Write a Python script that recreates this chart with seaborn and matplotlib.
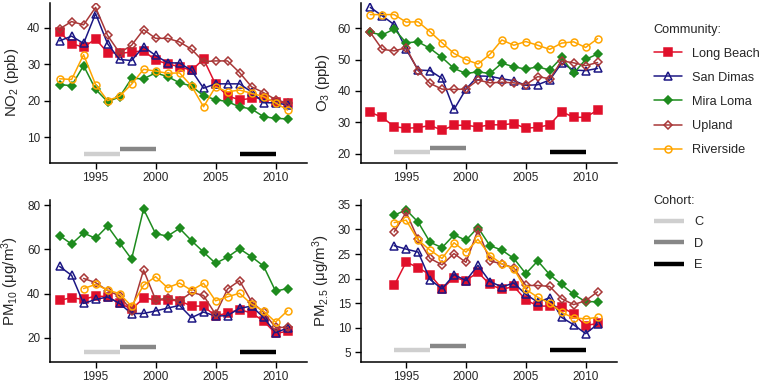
import numpy as np
import pandas as pd
import matplotlib
matplotlib.use("Agg")
import matplotlib.pyplot as plt
from matplotlib.lines import Line2D
import seaborn as sns

# ---------------- data ----------------
years = list(range(1992, 2012))
communities = ["Long Beach", "San Dimas", "Mira Loma", "Upland", "Riverside"]
NA = np.nan

no2_long_beach = [38.8, 35.6, 34.7, 36.9, 33.2, 33.0, 33.3, 33.7, 31.1, 30.1, 29.3, 28.3, 31.4, 24.5, 21.3, 20.2, 20.6, 20.8, 19.6, 19.3]
no2_san_dimas  = [36.4, 37.7, 35.7, 43.9, 35.6, 31.3, 31.0, 34.8, 32.4, 30.4, 30.3, 28.3, 23.4, 24.6, 24.6, 24.6, 22.4, 19.4, 19.4, 18.8]
no2_mira_loma  = [24.4, 24.1, 29.6, 23.1, 19.7, 21.0, 26.1, 26.0, 27.6, 26.6, 24.9, 24.0, 21.3, 20.3, 19.7, 18.3, 17.7, 15.6, 15.1, 15.0]
no2_upland     = [39.7, 41.7, 40.8, 45.6, 37.9, 33.1, 35.2, 39.5, 37.1, 37.1, 36.1, 34.1, 30.7, 30.9, 30.9, 27.7, 23.8, 22.2, 20.3, 19.3]
no2_riverside  = [26.0, 25.8, 32.6, 24.4, 20.0, 21.2, 24.5, 28.6, 28.1, 27.5, 27.6, 24.0, 18.3, 23.8, 22.4, 22.9, 22.0, 21.1, 19.4, 17.4]

o3_long_beach = [33.2, 31.6, 28.6, 28.1, 28.3, 29.0, 27.5, 29.0, 29.1, 28.5, 29.2, 29.2, 29.6, 28.1, 28.4, 29.2, 33.4, 31.6, 31.6, 33.9]
o3_san_dimas  = [66.7, 64.0, 61.2, 53.3, 46.7, 46.5, 44.0, 34.1, 40.6, 44.8, 44.7, 43.9, 43.3, 41.8, 42.0, 43.5, 48.9, 46.7, 46.5, 47.2]
o3_mira_loma  = [58.7, 57.9, 59.8, 55.4, 55.7, 53.6, 50.7, 47.2, 45.6, 46.1, 45.6, 48.9, 47.7, 47.0, 47.7, 46.7, 50.7, 45.6, 50.1, 51.8]
o3_upland     = [58.7, 53.3, 52.8, 53.8, 46.5, 42.4, 40.6, 40.5, 40.6, 43.5, 42.6, 42.8, 42.6, 42.0, 44.6, 43.9, 49.6, 49.0, 48.1, 49.1]
o3_riverside  = [64.4, 64.4, 64.4, 62.0, 62.1, 58.9, 55.4, 52.0, 50.0, 48.6, 51.7, 56.3, 54.6, 55.8, 54.6, 53.3, 55.3, 55.7, 53.9, 56.7]

pm10_long_beach = [37.0, 38.2, 37.4, 39.0, 38.6, 35.8, 33.0, 38.0, 37.3, 37.1, 36.8, 34.4, 34.4, 29.9, 31.3, 32.8, 31.3, 27.7, 22.1, 23.0]
pm10_san_dimas  = [52.3, 48.3, 35.6, 37.4, 38.5, 35.6, 31.0, 31.1, 32.2, 33.5, 34.7, 29.2, 31.7, 29.9, 30.1, 33.4, 34.4, 29.3, 22.4, 24.5]
pm10_mira_loma  = [66.2, 62.4, 67.4, 65.0, 70.5, 63.0, 55.6, 78.2, 67.1, 66.0, 69.5, 63.9, 58.8, 53.7, 56.5, 60.3, 56.7, 52.5, 41.2, 42.3]
pm10_upland     = [NA, NA, 46.9, 45.0, 41.4, 39.0, 32.3, 50.7, 37.3, 37.9, 36.8, 40.6, 39.2, 30.7, 42.1, 45.9, 36.4, 31.6, 24.8, 24.8]
pm10_riverside  = [NA, NA, 42.3, 44.2, 41.7, 40.0, 34.3, 43.8, 47.7, 42.7, 44.8, 41.5, 44.7, 36.8, 38.6, 40.2, 35.3, 32.2, 27.2, 32.3]

pm25_long_beach = [NA, NA, 18.6, 23.4, 22.2, 20.8, 17.9, 20.2, 19.6, 21.3, 18.8, 17.8, 18.4, 15.7, 14.4, 14.4, 14.2, 12.8, 10.4, 10.9]
pm25_san_dimas  = [NA, NA, 26.7, 26.0, 25.4, 19.8, 17.9, 20.8, 19.6, 22.7, 19.4, 18.3, 19.1, 16.8, 15.2, 16.1, 12.1, 10.6, 8.8, 10.7]
pm25_mira_loma  = [NA, NA, 32.9, 34.0, 31.5, 27.4, 26.3, 28.9, 27.8, 30.4, 26.7, 25.8, 24.1, 21.0, 23.6, 20.8, 18.8, 16.8, 15.3, 15.3]
pm25_upland     = [NA, NA, 29.5, 33.5, 28.0, 24.1, 22.8, 25.1, 23.3, 29.9, 23.6, 23.0, 22.2, 18.6, 18.6, 18.4, 15.9, 14.7, 15.5, 17.3]
pm25_riverside  = [NA, NA, 31.4, 31.9, 27.8, 25.8, 24.1, 27.3, 25.4, 28.0, 24.7, 23.0, 22.0, 17.8, 16.2, 15.0, 13.1, 12.0, 11.8, 12.1]

cohorts = ["C", "D", "E"]
cohort_start = [1994, 1997, 2007]
cohort_end = [1997, 2000, 2010]
cohort_level_no2 = [5.4, 6.6, 5.4]
cohort_level_o3 = [20.4, 21.9, 20.4]
cohort_level_pm10 = [13.7, 15.8, 13.7]
cohort_level_pm25 = [5.4, 6.2, 5.4]

panel_labels = [r"NO$_2$ (ppb)", r"O$_3$ (ppb)", r"PM$_{10}$ (μg/m$^3$)", r"PM$_{2.5}$ (μg/m$^3$)"]
panel_yticks = [[10, 20, 30, 40], [20, 30, 40, 50, 60], [20, 40, 60, 80], [5, 10, 15, 20, 25, 30, 35]]
x_ticks = [1995, 2000, 2005, 2010]

# ---------------- styles ----------------
colors = {"Long Beach": "#E0102B", "San Dimas": "#1C1784", "Mira Loma": "#1E8B1E",
          "Upland": "#A83838", "Riverside": "#FFA500"}
markers = {"Long Beach": "s", "San Dimas": "^", "Mira Loma": "D", "Upland": "D", "Riverside": "o"}
msizes = {"Long Beach": 5.2, "San Dimas": 5.2, "Mira Loma": 4.4, "Upland": 4.4, "Riverside": 5.0}
filled = {"Long Beach": True, "San Dimas": False, "Mira Loma": True, "Upland": False, "Riverside": False}
cohort_colors = ["#CFCFCF", "#878787", "#000000"]

sns.set_theme(style="ticks")
plt.rcParams["font.family"] = ["Liberation Sans", "DejaVu Sans"]
plt.rcParams["mathtext.default"] = "regular"

panels = [
    (dict(zip(communities, [no2_long_beach, no2_san_dimas, no2_mira_loma, no2_upland, no2_riverside])), cohort_level_no2, (2.95, 46.8)),
    (dict(zip(communities, [o3_long_beach, o3_san_dimas, o3_mira_loma, o3_upland, o3_riverside])), cohort_level_o3, (17.1, 68.1)),
    (dict(zip(communities, [pm10_long_beach, pm10_san_dimas, pm10_mira_loma, pm10_upland, pm10_riverside])), cohort_level_pm10, (9.3, 82.3)),
    (dict(zip(communities, [pm25_long_beach, pm25_san_dimas, pm25_mira_loma, pm25_upland, pm25_riverside])), cohort_level_pm25, (3.08, 36.0)),
]

W, H = 777, 386
fig = plt.figure(figsize=(W / 100, H / 100), dpi=100)
boxes = [
    (50, 3, 306.7, 162.7),
    (360.7, 3, 616.7, 162.7),
    (50, 200, 306.7, 361.7),
    (360.7, 200, 616.7, 361.7),
]

for i, ((series, clev, ylim), (x0, y0, x1, y1)) in enumerate(zip(panels, boxes)):
    ax = fig.add_axes([x0 / W, 1 - y1 / H, (x1 - x0) / W, (y1 - y0) / H])
    for c in communities:
        df = pd.DataFrame({"year": years, "value": series[c]}).dropna()
        sns.lineplot(data=df, x="year", y="value", ax=ax, color=colors[c],
                     marker=markers[c], markersize=msizes[c], linewidth=1.1,
                     markerfacecolor=colors[c] if filled[c] else "none",
                     markeredgecolor=colors[c], markeredgewidth=1.1, zorder=3)
    for s, e, lev, cc in zip(cohort_start, cohort_end, clev, cohort_colors):
        ax.plot([s, e], [lev, lev], color=cc, linewidth=3.2, solid_capstyle="butt")
    ax.set_xlim(1991.2, 2012.6)
    ax.set_ylim(*ylim)
    ax.set_xticks(x_ticks)
    ax.set_yticks(panel_yticks[i])
    ax.set_xlabel("")
    ax.set_ylabel(panel_labels[i], fontsize=10.8, labelpad=4)
    ax.tick_params(labelsize=8.5, length=4, width=1, color="black", pad=3)
    for sp in ["top", "right"]:
        ax.spines[sp].set_visible(False)
    for sp in ["left", "bottom"]:
        ax.spines[sp].set_linewidth(1.1)
        ax.spines[sp].set_color("black")

# ---------------- legends ----------------
comm_handles = [Line2D([0], [0], color=colors[c], marker=markers[c], markersize=msizes[c],
                       markerfacecolor=colors[c] if filled[c] else "none",
                       markeredgecolor=colors[c], markeredgewidth=1.1, linewidth=1.1)
                for c in communities]
leg1 = fig.legend(comm_handles, communities, title="Community:", loc="upper left",
                  bbox_to_anchor=(642 / W, 1 - 12 / H), frameon=False, fontsize=9.2,
                  title_fontsize=9.2, handlelength=2.2, labelspacing=0.95, alignment="left")
coh_handles = [Line2D([0], [0], color=cc, linewidth=3.2, solid_capstyle="butt") for cc in cohort_colors]
leg2 = fig.legend(coh_handles, cohorts, title="Cohort:", loc="upper left",
                  bbox_to_anchor=(642 / W, 1 - 183 / H), frameon=False, fontsize=9.2,
                  title_fontsize=9.2, handlelength=2.4, labelspacing=0.75, alignment="left")

fig.savefig("out.png", dpi=100)
